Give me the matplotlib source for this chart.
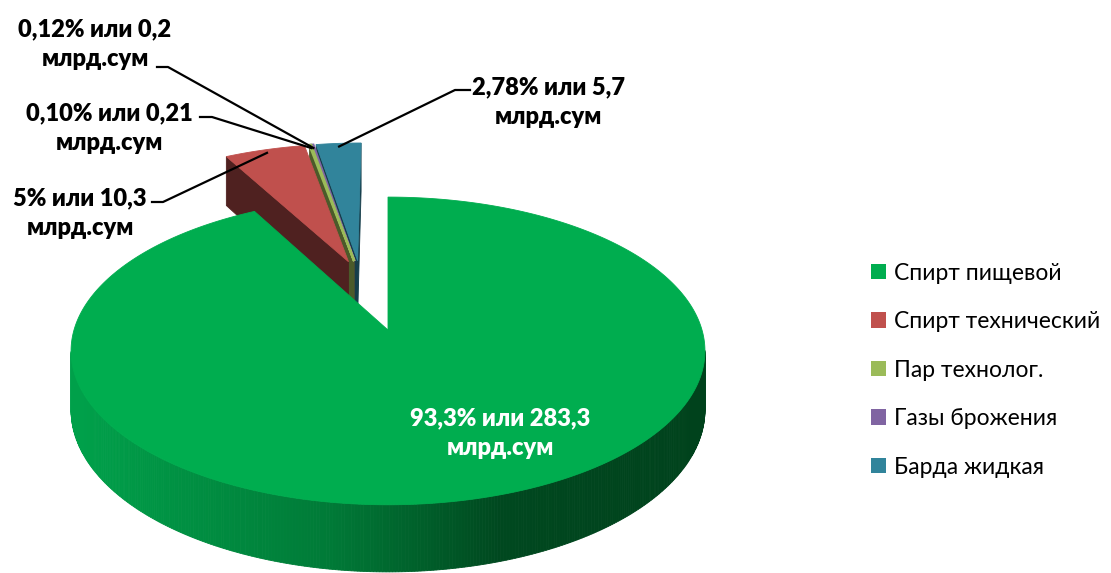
import numpy as np
import matplotlib
matplotlib.use("Agg")
import matplotlib.pyplot as plt
from matplotlib.patches import Polygon, Patch

# данные диаграммы
categories = ["Спирт пищевой", "Спирт технический", "Пар технолог.", "Газы брожения", "Барда жидкая"]
shares = [93.3, 5.0, 0.10, 0.12, 2.78]  # %
share_text = ["93,3%", "5%", "0,10%", "0,12%", "2,78%"]
amount_text = ["283,3", "10,3", "0,21", "0,2", "5,7"]  # млрд.сум
explode = [0.0, 0.5, 0.5, 0.5, 0.5]

top_colors = ["#00AD4F", "#C0504D", "#9BBB59", "#8064A2", "#31849B"]
dark_colors = ["#006A30", "#4F2120", "#4B5A2A", "#3E3050", "#153D4A"]

# псевдо-3D проекция (пиксели картинки)
CX, CY = 388, 330
SX, SY = 314, 151
K = 0.136
DEPTH = 58


def proj(u, v, z=0.0):
    w = 1 + K * v
    return CX + SX * u / w, CY - SY * v / w + DEPTH * z / w


def area(pts):
    x, y = np.array(pts).T
    return np.sum(x * np.roll(y, -1) - np.roll(x, -1) * y)


def side_color(x):
    xs = [80, 330, 500, 705]
    g = [0xA0, 0x7A, 0x48, 0x42]
    b = [0x4A, 0x37, 0x1F, 0x1C]
    return (0.0, np.interp(x, xs, g) / 255, np.interp(x, xs, b) / 255)


fig = plt.figure(figsize=(11.11, 5.73), dpi=100)
ax = fig.add_axes([0, 0, 1, 1])
ax.set_xlim(0, 1111)
ax.set_ylim(573, 0)
ax.axis("off")

vals = np.array(shares)
ang = np.concatenate([[0], np.cumsum(vals) / vals.sum() * 360])

# выдвинутые секторы уходят почти в одну сторону, с небольшим разлётом
grp = (ang[1] + 360) / 2
offsets = []
for i, e in enumerate(explode):
    own = (ang[i] + ang[i + 1]) / 2
    m = np.radians(grp + 0.25 * (own - grp))
    offsets.append((e * np.sin(m), e * np.cos(m)))


def arc(i, n):
    th = np.radians(np.linspace(ang[i], ang[i + 1], n))
    ou, ov = offsets[i]
    return ou + np.sin(th), ov + np.cos(th)


def edge_width(i):
    # тонкие секторы чуть обводим, чтобы их было видно
    return 1.8 if ang[i + 1] - ang[i] < 1 else 0.6


def draw_sides(i, z):
    n = max(3, int((ang[i + 1] - ang[i]) / 0.5))
    us, vs = arc(i, n)
    ou, ov = offsets[i]
    for j in range(n - 1):
        q = [proj(us[j], vs[j]), proj(us[j + 1], vs[j + 1]),
             proj(us[j + 1], vs[j + 1], 1), proj(us[j], vs[j], 1)]
        if area(q) < 0:
            c = side_color(np.mean([p[0] for p in q])) if i == 0 else dark_colors[i]
            ax.add_patch(Polygon(q, closed=True, fc=c, ec=c, lw=0.6, zorder=z))
    f1 = [proj(ou, ov), proj(us[0], vs[0]), proj(us[0], vs[0], 1), proj(ou, ov, 1)]
    f2 = [proj(ou, ov), proj(ou, ov, 1), proj(us[-1], vs[-1], 1), proj(us[-1], vs[-1])]
    for f in (f1, f2):
        if area(f) < 0:
            ax.add_patch(Polygon(f, closed=True, fc=dark_colors[i], ec=dark_colors[i],
                                 lw=0.6, zorder=z))


def draw_top(i, z):
    n = max(3, int((ang[i + 1] - ang[i]) / 0.5))
    us, vs = arc(i, n)
    ou, ov = offsets[i]
    pts = [proj(ou, ov)] + [proj(a, b) for a, b in zip(us, vs)]
    ax.add_patch(Polygon(pts, closed=True, fc=top_colors[i], ec=top_colors[i],
                         lw=edge_width(i), joinstyle="miter", zorder=z))


# дальние (выдвинутые) секторы: сначала грани, потом верх; затем большой сектор
for i in [4, 3, 2, 1]:
    draw_sides(i, 1)
for i in [4, 3, 2, 1]:
    draw_top(i, 2)
draw_sides(0, 3)
draw_top(0, 4)

# подписи
font = ["Lato", "DejaVu Sans"]
label_pos = {1: (80, 213), 2: (109, 128), 3: (95, 44), 4: (548, 102)}
hook = {1: (152, 163, 202), 2: (200, 212, 117), 3: (157, 168, 67), 4: (470, 455, 90)}
for i, (x, y) in label_pos.items():
    ax.text(x, y, f"{share_text[i]} или {amount_text[i]}\nмлрд.сум", ha="center", va="center",
            fontsize=17, fontweight="heavy", family=font, linespacing=1.4, zorder=6)
    mid = np.radians((ang[i] + ang[i + 1]) / 2)
    ou, ov = offsets[i]
    px, py = proj(ou + 0.97 * np.sin(mid), ov + 0.97 * np.cos(mid))
    x0, x1, yh = hook[i]
    ax.plot([x0, x1, px], [yh, yh, py], color="black", lw=1.6, zorder=5)

ax.text(500, 433, f"{share_text[0]} или {amount_text[0]}\nмлрд.сум", ha="center", va="center",
        fontsize=17, fontweight="heavy", family=font, color="white", linespacing=1.4, zorder=6)

handles = [Patch(facecolor=c, edgecolor="none") for c in top_colors]
fig.legend(handles, categories, loc="upper left", bbox_to_anchor=(850 / 1111, 1 - 242 / 573),
           frameon=False, handlelength=0.65, handleheight=0.65, handletextpad=0.35,
           labelspacing=1.2, prop={"family": font, "size": 16.5})

fig.savefig("out.png", dpi=100)
